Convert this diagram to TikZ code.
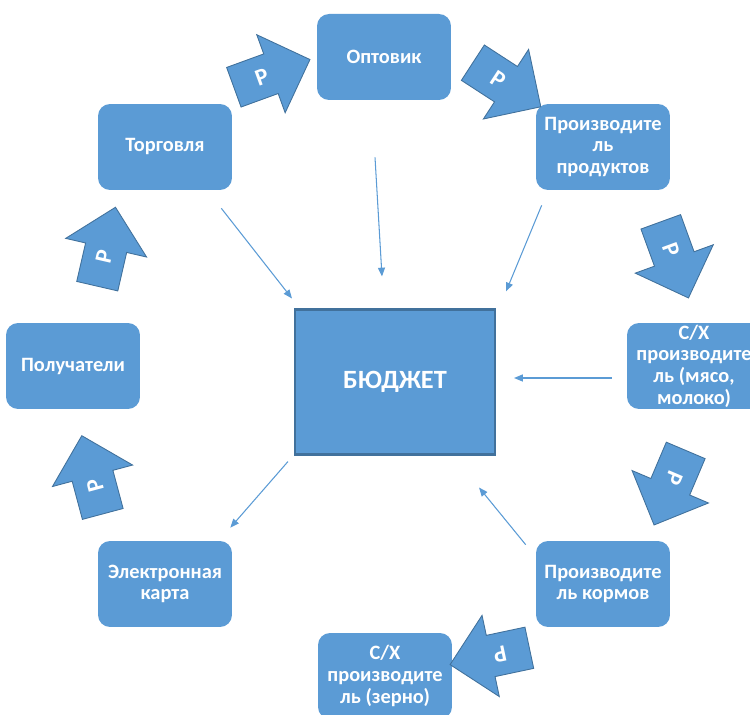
\documentclass[tikz,border=0pt]{standalone}
\usepackage{fontspec}
\setmainfont{Carlito}
\usetikzlibrary{arrows.meta, shapes, shapes.arrows, positioning, calc}
\definecolor{bluefill}{HTML}{5B9BD5}
\definecolor{blueline}{HTML}{41719C}

\begin{document}
\begin{tikzpicture}[x=0.02cm, y=-0.02cm,
    box/.style={rounded corners=0.24cm, fill=bluefill, text=white, align=center,
      font=\bfseries\fontsize{11.6}{12.3}\selectfont,
      minimum width=2.68cm, minimum height=1.72cm, inner sep=1pt},
    budget/.style={draw=blueline, line width=1.2pt, fill=bluefill, text=white,
      font=\bfseries\fontsize{15}{18}\selectfont,
      minimum width=4cm, minimum height=2.9cm},
    parrow/.style={single arrow, draw=blueline, line width=0.5pt, fill=bluefill,
      text=white, font=\bfseries\fontsize{13.5}{15}\selectfont,
      minimum height=1.62cm, minimum width=1.66cm,
      single arrow head extend=0.4cm, inner xsep=0pt, inner ysep=0.25cm},
    link/.style={draw=bluefill, line width=0.6pt, -{Triangle[length=5pt,width=4pt]}}]

    \useasboundingbox (0,0) rectangle (750,715);
    \clip (0,0) rectangle (750,715);

    % Центр
    \node[budget] (bud) at (395,382) {БЮДЖЕТ};

    % Участники
    \node[box] (opt) at (384,57) {Оптовик};
    \node[box] (torg) at (165,147) {Торговля};
    \node[box] (prod) at (603,147) {Производите\\ль\\продуктов};
    \node[box] (meat) at (694,366) {С/Х\\производите\\ль (мясо,\\молоко)};
    \node[box] (poluch) at (73,366) {Получатели};
    \node[box] (ekarta) at (165,584) {Электронная\\карта};
    \node[box] (korm) at (603,584) {Производите\\ль кормов};
    \node[box] (zerno) at (385,676) {С/Х\\производите\\ль (зерно)};

    % Стрелки Р
    \node[parrow, rotate=20] (p1) at (262,77) {Р};
    \node[parrow, rotate=-33] (p2) at (498,79) {Р};
    \node[parrow, rotate=-70] (p3) at (671,250) {Р};
    \node[parrow, rotate=-113] (p4) at (674,478) {Р};
    \node[parrow, rotate=192] (p5) at (500,654) {Р};
    \node[parrow, rotate=77] (p6) at (104,257) {Р};
    \node[parrow, rotate=105] (p7) at (95,485) {Р};

    % Связи с бюджетом
    \draw[link] ([shift={(-9,57)}]opt.south) -- ([shift={(-13,-32)}]bud.north);
    \draw[link] ([shift={(-11,18)}]torg.south east) -- ([shift={(-2,-10)}]bud.north west);
    \draw[link] ([shift={(6,15)}]prod.south west) -- ([shift={(10,-17)}]bud.north east);
    \draw[link] ([shift={(-15,12)}]meat.west) -- ([shift={(18,-4)}]bud.east);
    \draw[link] ([shift={(-10,4)}]korm.north west) -- ([shift={(-17,32)}]bud.south east);
    \draw[link] ([shift={(-6,6)}]bud.south west) -- ([shift={(-2,-13)}]ekarta.north east);

\end{tikzpicture}
\end{document}
